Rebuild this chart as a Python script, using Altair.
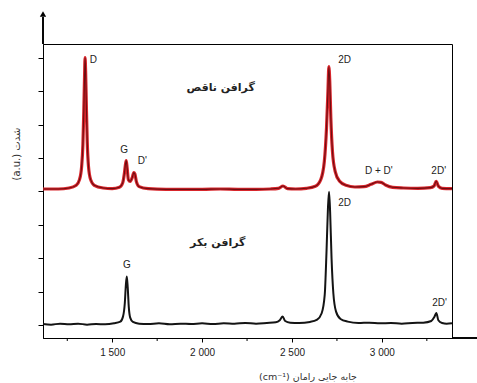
import altair as alt
import pandas as pd

# Defective graphene (red) spectrum: Raman shift (cm^-1) and intensity (a.u.)
red_x = [1115, 1200, 1260, 1300, 1318, 1330, 1337, 1342, 1346, 1349, 1352, 1356, 1361, 1368, 1380, 1400, 1450,
         1500, 1540, 1558, 1568, 1574, 1578, 1583, 1590, 1600, 1612, 1620, 1626, 1634, 1650, 1700,
         1800, 1900, 2000, 2100, 2200, 2300, 2380, 2425, 2450, 2475, 2520, 2580, 2630, 2660,
         2680, 2692, 2700, 2705, 2710, 2716, 2725, 2740, 2765, 2800, 2850, 2900, 2940, 2975,
         2995, 3020, 3060, 3120, 3200, 3270, 3290, 3302, 3315, 3335, 3390]
red_y = [4.07, 4.07, 4.10, 4.18, 4.35, 4.75, 5.4, 6.4, 7.4, 8.0, 7.6, 6.6, 5.5, 4.75, 4.35, 4.18, 4.10,
         4.08, 4.12, 4.25, 4.55, 4.82, 4.92, 4.7, 4.35, 4.3, 4.42, 4.56, 4.52, 4.3, 4.14, 4.08,
         4.06, 4.06, 4.06, 4.07, 4.06, 4.06, 4.07, 4.09, 4.16, 4.08, 4.07, 4.09, 4.15, 4.35,
         4.9, 5.9, 7.0, 7.73, 7.3, 6.2, 5.2, 4.6, 4.3, 4.18, 4.13, 4.14, 4.21, 4.28,
         4.27, 4.19, 4.12, 4.10, 4.09, 4.11, 4.16, 4.3, 4.15, 4.09, 4.08]

# Pristine graphene (black) spectrum
blk_x = [1115, 1160, 1210, 1260, 1310, 1360, 1410, 1460, 1510, 1545, 1560, 1570, 1576, 1581, 1586, 1592, 1600,
         1615, 1650, 1700, 1760, 1820, 1880, 1940, 2000, 2060, 2120, 2180, 2240, 2300, 2360, 2410,
         2432, 2448, 2462, 2490, 2540, 2600, 2640, 2665, 2682, 2692, 2700, 2706, 2712, 2720, 2730,
         2745, 2770, 2810, 2870, 2930, 2990, 3050, 3110, 3170, 3230, 3275, 3292, 3303, 3314, 3335,
         3360, 3390]
blk_y = [0.03, 0.01, 0.04, 0.02, 0.04, 0.01, 0.03, 0.02, 0.05, 0.1, 0.25, 0.65, 1.2, 1.45, 1.15, 0.55, 0.22,
         0.09, 0.04, 0.03, 0.05, 0.02, 0.04, 0.03, 0.05, 0.03, 0.05, 0.04, 0.06, 0.04, 0.06, 0.08,
         0.14, 0.25, 0.12, 0.07, 0.06, 0.09, 0.16, 0.35, 0.9, 2.2, 3.5, 3.99, 3.4, 2.0, 0.95,
         0.4, 0.18, 0.1, 0.06, 0.07, 0.05, 0.06, 0.04, 0.06, 0.07, 0.12, 0.24, 0.36, 0.14, 0.06,
         0.04, 0.05]

# Peak labels
lab_text = ["D", "G", "D'", "2D", "D + D'", "2D'", "2D", "G", "2D'"]
lab_x = [1375, 1567, 1668, 2757, 2983, 3316, 2757, 1582, 3321]
lab_y = [7.93, 5.24, 4.92, 7.93, 4.61, 4.61, 3.64, 1.80, 0.66]
lab_align = ["left", "center", "center", "left", "center", "center", "left", "center", "center"]

# Series names
name_text = ["گرافن ناقص", "گرافن بکر"]
name_x = [2103, 2087]
name_y = [7.10, 2.46]

# Axis ticks
major_ticks = [1500, 2000, 2500, 3000]
minor_ticks = [1250, 1750, 2250, 2750, 3250]
y_ticks = [0, 1, 2, 3, 4, 5, 6, 7, 8]

W, H = 409, 294
xs = alt.Scale(domain=[1115, 3390], nice=False, zero=False)
ys = alt.Scale(domain=[-0.39, 8.41], nice=False, zero=False)

red_df = pd.DataFrame({"x": red_x, "y": red_y})
blk_df = pd.DataFrame({"x": blk_x, "y": blk_y})
lab_df = pd.DataFrame({"t": lab_text, "x": lab_x, "y": lab_y, "a": lab_align})
name_df = pd.DataFrame({"t": name_text, "x": name_x, "y": name_y})
minor_df = pd.DataFrame({"x": minor_ticks})

xaxis = alt.Axis(values=major_ticks, labelExpr="replace(format(datum.value, ','), ',', ' ')",
                 tickSize=4, labelPadding=5, labelFontSize=10, labelFont="Liberation Sans",
                 labelColor="#222", domainColor="black", tickColor="black", grid=False, title=None)
yaxis = alt.Axis(values=y_ticks, labels=False, tickSize=5, domainColor="black", tickColor="black",
                 grid=False, title=None)

X = alt.X("x:Q", scale=xs, axis=xaxis)
Y = alt.Y("y:Q", scale=ys, axis=yaxis)

base_red = alt.Chart(red_df)
red_halo = base_red.mark_line(color="#d8262c", strokeWidth=3.2, interpolate="monotone").encode(x=X, y=Y)
red_core = base_red.mark_line(color="#6e0c10", strokeWidth=1.1, interpolate="monotone").encode(x=X, y=Y)
blk_line = alt.Chart(blk_df).mark_line(color="#141414", strokeWidth=2.0, interpolate="monotone").encode(x=X, y=Y)

lab_left = alt.Chart(lab_df).transform_filter("datum.a == 'left'").mark_text(
    align="left", baseline="middle", fontSize=10, font="Liberation Sans", color="#222").encode(
    x=X, y=Y, text="t:N")
lab_center = alt.Chart(lab_df).transform_filter("datum.a == 'center'").mark_text(
    align="center", baseline="middle", fontSize=10, font="Liberation Sans", color="#222").encode(
    x=X, y=Y, text="t:N")
names = alt.Chart(name_df).mark_text(
    align="center", baseline="middle", fontSize=11, font="DejaVu Sans", fontWeight="bold", color="#222").encode(
    x=X, y=Y, text="t:N")

minor = alt.Chart(minor_df).mark_rule(color="black", strokeWidth=1).encode(
    x=X, y=alt.value(H), y2=alt.value(H + 3))

# axis arrows
up_line = alt.Chart(minor_df).mark_rule(color="black", strokeWidth=1).encode(
    x=alt.value(0), y=alt.value(-27), y2=alt.value(0))
up_head = alt.Chart(pd.DataFrame({"k": [0]})).mark_point(
    shape="triangle-up", filled=True, color="black", size=40, opacity=1).encode(
    x=alt.value(0), y=alt.value(-30))
right_line = alt.Chart(minor_df).mark_rule(color="black", strokeWidth=1).encode(
    x=alt.value(W), x2=alt.value(W + 26), y=alt.value(H))
right_head = alt.Chart(pd.DataFrame({"k": [0]})).mark_point(
    shape="triangle-right", filled=True, color="black", size=40, opacity=1).encode(
    x=alt.value(W + 28), y=alt.value(H))

xtitle = alt.Chart(pd.DataFrame({"t": ["(cm⁻¹)  جابه جایی رامان"]})).mark_text(
    align="center", baseline="middle", fontSize=9.5, font="DejaVu Sans", color="#333").encode(
    x=alt.value(265), y=alt.value(333), text="t:N")
ytitle = alt.Chart(pd.DataFrame({"t": ["(a.u.)     شدت"]})).mark_text(
    align="center", baseline="middle", fontSize=10, font="DejaVu Sans", color="#333", angle=270).encode(
    x=alt.value(-26), y=alt.value(110), text="t:N")

chart = alt.layer(
    red_halo, red_core, blk_line, lab_left, lab_center, names, minor,
    up_line, up_head, right_line, right_head, xtitle, ytitle
).properties(
    width=W, height=H,
    autosize=alt.AutoSizeParams(type="none"),
    padding={"left": 43, "top": 44, "right": 25, "bottom": 45},
    background="white"
).configure_view(stroke="black", strokeWidth=1)

chart.save("out.html", embed_options={"renderer": "svg", "actions": False})
